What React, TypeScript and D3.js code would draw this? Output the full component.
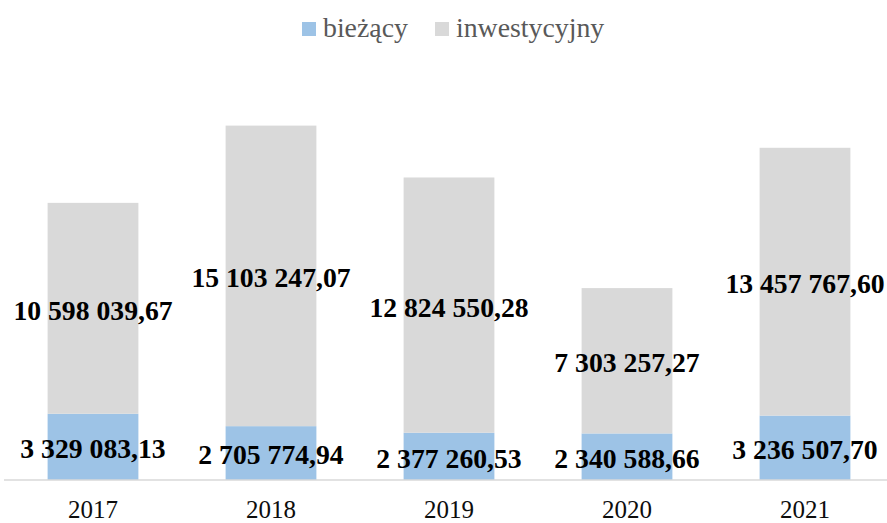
import React, { useEffect } from "react";
import * as d3 from "d3";

const categories = ["2017", "2018", "2019", "2020", "2021"];
const biezacy = [3329083.13, 2705774.94, 2377260.53, 2340588.66, 3236507.7];
const inwestycyjny = [10598039.67, 15103247.07, 12824550.28, 7303257.27, 13457767.6];
const seriesNames = ["bieżący", "inwestycyjny"];
const seriesColors = ["#9dc3e6", "#d9d9d9"];

const W = 887;
const H = 523;

function fmt(v: number): string {
  const [i, d] = v.toFixed(2).split(".");
  const withSpaces = i.replace(/\B(?=(\d{3})+(?!\d))/g, " ");
  return withSpaces + "," + d;
}

const serif = '"Liberation Serif", "DejaVu Serif", "Times New Roman", serif';

export default function App() {
  useEffect(() => {
    document.body.style.margin = "0";
  }, []);

  const x = d3.scaleBand<string>().domain(categories).range([4, 894]).paddingInner(0.49).paddingOuter(0.245);
  const y = d3.scaleLinear().domain([0, 20000000]).range([480, 82]);

  const rows = categories.map((c, i) => ({ cat: c, b: biezacy[i], inw: inwestycyjny[i] }));
  const stack = d3.stack<any>().keys(["b", "inw"])(rows as any);

  const labelFs = 27.7;
  const tStyle = { fontFamily: serif };

  return (
    <svg width={W} height={H} style={{ position: "absolute", left: 0, top: 0, background: "#fff", fontFamily: serif }}>
      <rect x={0} y={0} width={W} height={H} fill="#fff" />
      {stack.map((layer, li) =>
        layer.map((d, i) => (
          <rect
            key={`r${li}-${i}`}
            x={x(categories[i])}
            width={x.bandwidth()}
            y={y(d[1])}
            height={y(d[0]) - y(d[1])}
            fill={seriesColors[li]}
          />
        ))
      )}
      <line x1={4} x2={W} y1={y(0)} y2={y(0)} stroke="#d9d9d9" strokeWidth={1.5} />
      {stack.map((layer, li) =>
        layer.map((d, i) => {
          const cy = (y(d[0]) + y(d[1])) / 2 + 2 + labelFs * 0.34;
          const val = li === 0 ? biezacy[i] : inwestycyjny[i];
          return (
            <text
              key={`t${li}-${i}`}
              x={(x(categories[i]) as number) + x.bandwidth() / 2}
              y={cy}
              textAnchor="middle"
              fontSize={labelFs}
              fontWeight="bold"
              fill="#000"
              style={tStyle}
            >
              {fmt(val)}
            </text>
          );
        })
      )}
      {categories.map((c) => (
        <text
          key={`c${c}`}
          x={(x(c) as number) + x.bandwidth() / 2}
          y={518}
          textAnchor="middle"
          fontSize={25}
          fill="#0d0d0d"
          style={tStyle}
        >
          {c}
        </text>
      ))}
      <g>
        <rect x={302} y={22} width={14} height={14} fill={seriesColors[0]} />
        <text x={323} y={37} fontSize={27.8} fill="#595959" style={tStyle}>{seriesNames[0]}</text>
        <rect x={435} y={22} width={14} height={14} fill={seriesColors[1]} />
        <text x={456} y={37} fontSize={27.8} fill="#595959" style={tStyle}>{seriesNames[1]}</text>
      </g>
    </svg>
  );
}
